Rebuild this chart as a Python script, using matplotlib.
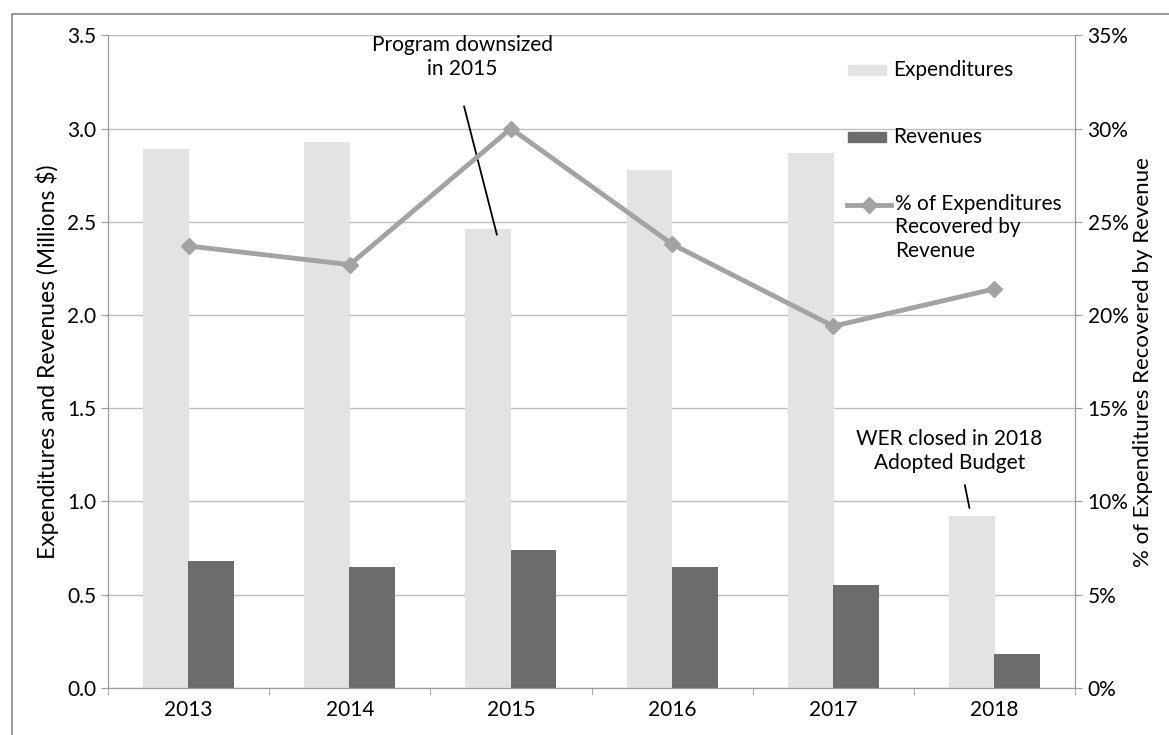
import matplotlib
matplotlib.use("Agg")
import matplotlib.pyplot as plt
import numpy as np
from matplotlib.patches import Rectangle
from matplotlib.lines import Line2D

years = ["2013", "2014", "2015", "2016", "2017", "2018"]
expenditures = [2.89, 2.93, 2.46, 2.78, 2.87, 0.92]
revenues = [0.68, 0.65, 0.74, 0.65, 0.55, 0.18]
pct_recovered = [23.7, 22.7, 30.0, 23.8, 19.4, 21.4]

EXP_C = "#e3e3e3"
REV_C = "#6c6c6c"
LINE_C = "#a3a3a3"

plt.rcParams['font.family'] = ['Lato', 'DejaVu Sans']

fig = plt.figure(figsize=(11.69, 7.35), dpi=100)
ax = fig.add_axes([0.0924, 0.064, 0.8272, 0.888])
ax2 = ax.twinx()

x = np.arange(len(years))
w = 0.285
ax.bar(x - 0.14, expenditures, width=w, color=EXP_C, zorder=2)
ax.bar(x + 0.14, revenues, width=w, color=REV_C, zorder=2)
ax2.plot(x, pct_recovered, color=LINE_C, lw=3.5, marker="D", ms=8,
         mfc=LINE_C, mec=LINE_C, zorder=3)

ax.set_xlim(-0.5, 5.5)
ax.set_ylim(0, 3.5)
ax2.set_ylim(0, 35)
ax.set_yticks(np.arange(0, 3.51, 0.5))
ax.set_yticklabels([f"{v:.1f}" for v in np.arange(0, 3.51, 0.5)])
ax2.set_yticks(np.arange(0, 36, 5))
ax2.set_yticklabels([f"{v}%" for v in range(0, 36, 5)])
ax.set_xticks(x)
ax.set_xticklabels(years)
ax.set_xticks(np.arange(-0.5, 5.6, 1), minor=True)
ax.tick_params(axis="x", which="major", length=0, labelsize=15, pad=9)
ax.tick_params(axis="x", which="minor", length=5, color="#999999")
ax.tick_params(axis="y", labelsize=15, length=5, color="#999999")
ax2.tick_params(axis="y", labelsize=15, length=5, color="#999999", pad=4)

ax.grid(axis="y", color="#bdbdbd", lw=1, zorder=0)
ax.set_axisbelow(True)
for a in (ax, ax2):
    for s in ("left", "right", "bottom"):
        a.spines[s].set_color("#999999")
    a.spines["top"].set_visible(False)

ax.set_ylabel("Expenditures and Revenues (Millions $)", fontsize=16.5, labelpad=6)
ax2.set_ylabel("% of Expenditures Recovered by Revenue", fontsize=16, labelpad=3)

# legend (manual, to mimic the original layout)
def axx(px):
    return (px - 108) / 967.0

def axy(py):
    return (688 - py) / 653.0

ax.add_patch(Rectangle((axx(848), axy(75)), axx(886) - axx(848), axy(65) - axy(75),
                       transform=ax.transAxes, color=EXP_C, clip_on=False, zorder=5))
ax.text(axx(893), axy(70), "Expenditures", transform=ax.transAxes, fontsize=15,
        va="center", ha="left")
ax.add_patch(Rectangle((axx(848), axy(142)), axx(886) - axx(848), axy(132) - axy(142),
                       transform=ax.transAxes, color=REV_C, clip_on=False, zorder=5))
ax.text(axx(893), axy(137), "Revenues", transform=ax.transAxes, fontsize=15,
        va="center", ha="left")
ax.add_line(Line2D([axx(847), axx(891)], [axy(205), axy(205)], transform=ax.transAxes,
                   color=LINE_C, lw=3.5, zorder=5))
ax.add_line(Line2D([axx(869)], [axy(205)], transform=ax.transAxes, marker="D", ms=8,
                   color=LINE_C, zorder=5))
ax.text(axx(895), axy(194), "% of Expenditures\nRecovered by\nRevenue", transform=ax.transAxes,
        fontsize=15, va="top", ha="left", linespacing=1.2)

ax.annotate("Program downsized\nin 2015", xy=(1.913, 2.43), xytext=(1.70, 3.50),
            ha="center", va="top", fontsize=15, linespacing=1.25,
            arrowprops=dict(arrowstyle="-", color="black", lw=1.3,
                            shrinkA=18, shrinkB=0, relpos=(0.47, 0)))
ax.annotate("WER closed in 2018\nAdopted Budget", xy=(4.845, 0.965), xytext=(4.72, 1.39),
            ha="center", va="top", fontsize=15, linespacing=1.25,
            arrowprops=dict(arrowstyle="-", color="black", lw=1.3,
                            shrinkA=7, shrinkB=0, relpos=(0.57, 0)))

fig.add_artist(Rectangle((0.010, -0.01), 1.0, 0.991, transform=fig.transFigure,
                         fill=False, ec="#888888", lw=1.2))

fig.savefig("out.png", dpi=100)
